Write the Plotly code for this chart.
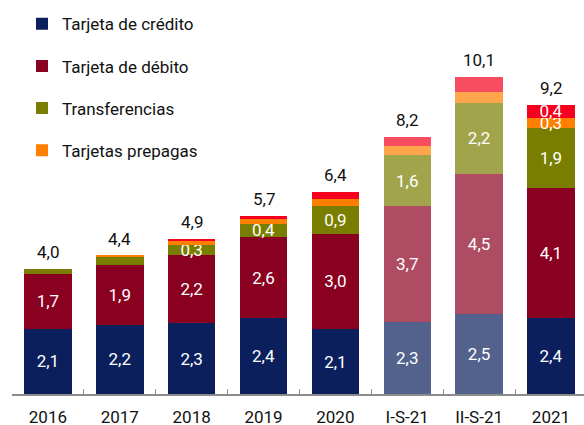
import plotly.graph_objects as go

categories = ["2016", "2017", "2018", "2019", "2020", "I-S-21", "II-S-21", "2021"]

credito = [2.08, 2.21, 2.26, 2.41, 2.07, 2.30, 2.54, 2.42]
debito = [1.74, 1.89, 2.17, 2.60, 3.04, 3.70, 4.48, 4.14]
transferencias = [0.16, 0.27, 0.31, 0.42, 0.88, 1.60, 2.24, 1.91]
prepagas = [0.00, 0.03, 0.15, 0.16, 0.21, 0.30, 0.35, 0.32]
otros = [0.00, 0.00, 0.04, 0.08, 0.23, 0.30, 0.50, 0.42]

# which segments carry a value label
show_credito = [1, 1, 1, 1, 1, 1, 1, 1]
show_debito = [1, 1, 1, 1, 1, 1, 1, 1]
show_transf = [0, 0, 1, 1, 1, 1, 1, 1]
show_prepagas = [0, 0, 0, 0, 0, 0, 0, 1]
show_otros = [0, 0, 0, 0, 0, 0, 0, 1]

opac = [1, 1, 1, 1, 1, 0.7, 0.7, 1]


def fmt(v):
    return f"{v:.1f}".replace(".", ",")


def labels(vals, mask):
    return [fmt(v) if m else "" for v, m in zip(vals, mask)]


series = [
    ("Tarjeta de crédito", credito, show_credito, "#0a1f5c", True),
    ("Tarjeta de débito", debito, show_debito, "#8a0020", True),
    ("Transferencias", transferencias, show_transf, "#7a7e00", True),
    ("Tarjetas prepagas", prepagas, show_prepagas, "#ff8000", True),
    ("Otros", otros, show_otros, "#f5001e", False),
]

FONT = "Roboto"
fig = go.Figure()
for i, (name, vals, mask, color, inleg) in enumerate(series):
    fig.add_trace(go.Bar(
        x=categories, y=vals, name=name,
        marker=dict(color=color, opacity=opac, line=dict(width=0)),
        text=labels(vals, mask), textposition="inside",
        insidetextanchor="middle",
        textfont=dict(color="white", size=17, family=FONT),
        showlegend=inleg, legendgroup=f"g{i}",
        hoverinfo="skip",
    ))

totals = [sum(v) for v in zip(credito, debito, transferencias, prepagas, otros)]
for idx, t in enumerate(totals):
    fig.add_annotation(x=idx, y=t, xref="x", yref="y", text=fmt(t),
                       showarrow=False, yanchor="bottom", yshift=5,
                       font=dict(size=17, color="#111111", family=FONT))

fig.update_layout(
    width=584, height=425,
    margin=dict(l=12, r=0, t=0, b=31, autoexpand=False),
    barmode="stack", bargap=0.34,
    plot_bgcolor="white", paper_bgcolor="white",
    font=dict(family=FONT, size=17, color="#111111"),
    uniformtext=dict(minsize=17, mode="show"),
    legend=dict(x=0.0175, y=0.984, xanchor="left", yanchor="top",
                orientation="v", tracegroupgap=17,
                font=dict(size=17, family=FONT, color="#111111"),
                bgcolor="rgba(0,0,0,0)", itemwidth=30),
    showlegend=True,
)
fig.update_xaxes(type="category", range=[-0.5, 7.46], automargin=False,
                 showline=True, linecolor="#8c8c8c", linewidth=2,
                 ticks="inside", tickson="boundaries", ticklen=5,
                 tickcolor="#8c8c8c", tickwidth=1,
                 ticklabelstandoff=7, showgrid=False,
                 tickfont=dict(size=17, family=FONT, color="#111111"))
fig.update_yaxes(range=[0, 12.55], visible=False, showgrid=False,
                 automargin=False)

fig.write_html("out.html", config={"displayModeBar": False},
               post_script="document.body.style.margin='0';")
